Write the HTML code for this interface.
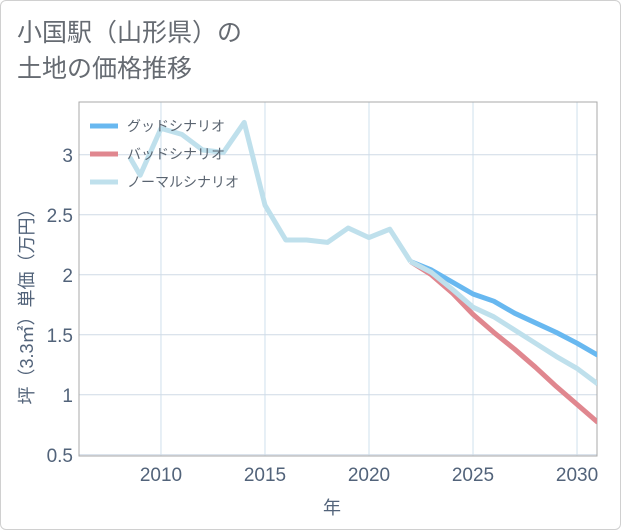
<!DOCTYPE html>
<html><head><meta charset="utf-8">
<style>
html,body{margin:0;padding:0;background:#fff;}
#wrap{position:relative;width:621px;height:530px;}
#frame{position:absolute;left:0;top:0;width:619px;height:528px;border:1px solid #d0d0d0;border-radius:6px;}
#title{position:absolute;left:17px;top:15px;font:25px/36px "Liberation Sans","Noto Sans CJK JP",sans-serif;color:#666b72;margin:0;font-weight:normal;}
svg{position:absolute;left:0;top:0;}
text{font-family:"Liberation Sans","Noto Sans CJK JP",sans-serif;}
</style></head><body>
<div id="wrap">
<div id="frame"></div>
<h1 id="title">小国駅（山形県）の<br>土地の価格推移</h1>
<svg id="chart" width="621" height="530"></svg>
</div>
<script>
const histYears=[2008.5,2009,2010,2011,2012,2013,2014,2015,2016,2017,2018,2019,2020,2021,2022];
const histValues=[2.98,2.83,3.22,3.17,3.04,3.02,3.27,2.58,2.29,2.29,2.27,2.39,2.31,2.38,2.11];
const forecastYears=[2022,2023,2024,2025,2026,2027,2028,2029,2030,2031];
const goodValues=[2.11,2.04,1.94,1.84,1.78,1.68,1.60,1.52,1.43,1.33];
const badValues=[2.11,2.00,1.85,1.67,1.52,1.38,1.23,1.07,0.92,0.77];
const normalValues=[2.11,2.02,1.88,1.73,1.65,1.54,1.43,1.32,1.22,1.09];
const xTicks=[2010,2015,2020,2025,2030];
const yTicks=[0.5,1,1.5,2,2.5,3];
const yTickLabels=["0.5","1","1.5","2","2.5","3"];
const legendLabels=["グッドシナリオ","バッドシナリオ","ノーマルシナリオ"];

const NS="http://www.w3.org/2000/svg";
const svg=document.getElementById('chart');
const L=79,R=597,T=102,B=456;
const xMin=2006.06,xMax=2030.96,yMin=0.49,yMax=3.44;
function xs(v){return L+(v-xMin)/(xMax-xMin)*(R-L);}
function ys(v){return B-(v-yMin)/(yMax-yMin)*(B-T);}
function mk(tag,attrs,parent){const e=document.createElementNS(NS,tag);for(const k in attrs)e.setAttribute(k,attrs[k]);(parent||svg).appendChild(e);return e;}

const defs=mk('defs',{});
const cp=mk('clipPath',{id:'clip'},defs);
mk('rect',{x:L,y:T,width:R-L,height:B-T},cp);

xTicks.forEach(t=>{
  const g=mk('line',{x1:xs(t),x2:xs(t),y1:T,y2:B,stroke:'#cfe0ec','stroke-width':1});
  
  
  const l=mk('text',{x:xs(t),y:481,'text-anchor':'middle','font-size':19,fill:'#52637a'});
  l.textContent=t;
  
  
});
yTicks.forEach((t,i)=>{
  const g=mk('line',{x1:L,x2:R,y1:ys(t),y2:ys(t),stroke:'#cfdae6','stroke-width':1});
  
  
  const l=mk('text',{x:73,y:ys(t)+7,'text-anchor':'end','font-size':19,fill:'#52637a'});
  l.textContent=yTickLabels[i];
  
  
});
const border=mk('rect',{x:L,y:T,width:R-L,height:B-T,fill:'none',stroke:'#a9a9a9','stroke-width':1});



function path(xsArr,vals,color,name){
  const d=vals.map((v,i)=>(i?'L':'M')+xs(xsArr[i]).toFixed(1)+','+ys(v).toFixed(1)).join(' ');
  const p=mk('path',{d:d,fill:'none',stroke:color,'stroke-width':5,'stroke-linejoin':'round','clip-path':'url(#clip)'});
  
  
}
path(forecastYears,badValues,'#e0878f','bad-scenario-line');
path(forecastYears,goodValues,'#68b8f0','good-scenario-line');
path(forecastYears,normalValues,'#bfe0ec','normal-scenario-line');
path(histYears,histValues,'#bfe0ec','historical-line');

const legColors=['#68b8f0','#e0878f','#bfe0ec'];
legendLabels.forEach((lab,i)=>{
  const y=126+i*28;
  const s=mk('line',{x1:90,x2:118,y1:y,y2:y,stroke:legColors[i],'stroke-width':5});
  
  
  const t=mk('text',{x:127,y:y+5,'font-size':14,fill:'#5a6470'});
  t.textContent=lab;
  
  
});

const yt=mk('text',{x:0,y:0,'font-size':18,fill:'#52637a','text-anchor':'middle',transform:'translate(33,302) rotate(-90)'});
yt.textContent='坪（3.3㎡）単価（万円）';


const xt=mk('text',{x:332,y:514,'font-size':18,fill:'#52637a','text-anchor':'middle'});
xt.textContent='年';


</script>
</body></html>
